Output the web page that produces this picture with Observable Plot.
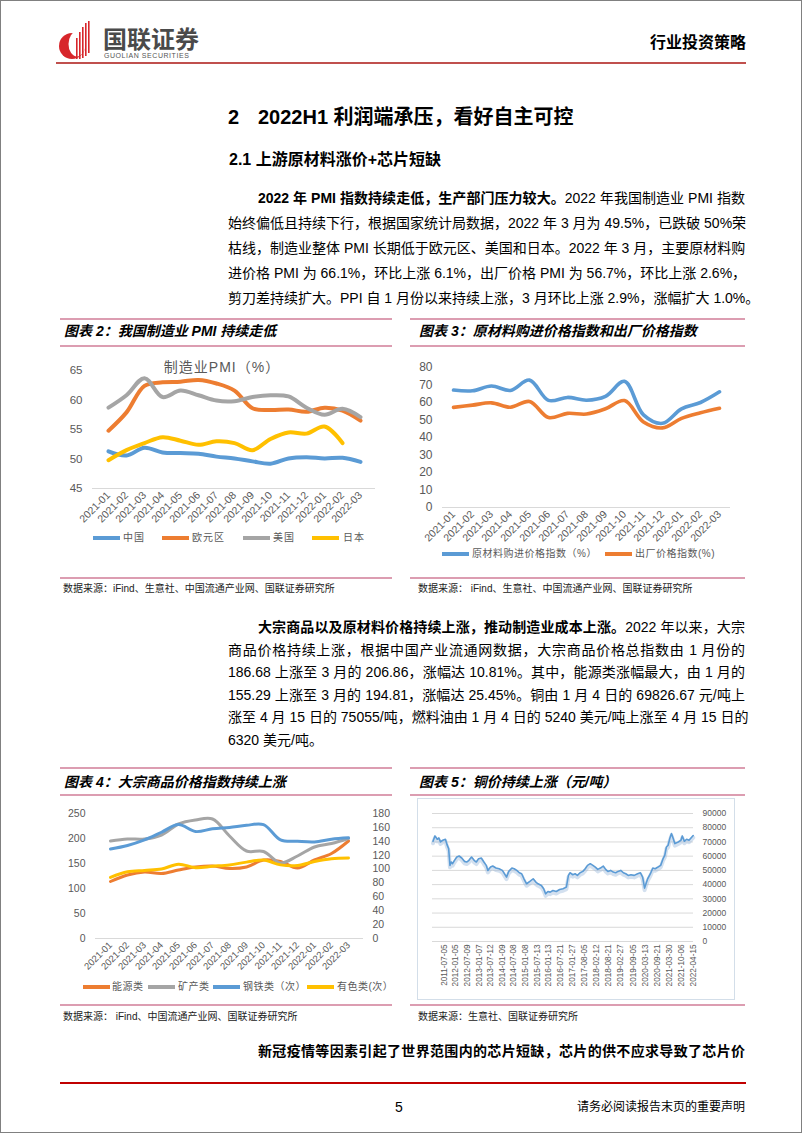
<!DOCTYPE html>
<html><head><meta charset="utf-8">
<script src="https://cdn.jsdelivr.net/npm/d3@7"></script>
<script src="https://cdn.jsdelivr.net/npm/@observablehq/plot@0.6"></script>
<style>
body{margin:0;background:#fff;}
#page{position:relative;width:802px;height:1133px;overflow:hidden;background:#fff;font-family:"Liberation Sans","Noto Sans CJK SC",sans-serif;color:#000;}
#frame{position:absolute;left:0;top:0;width:802px;height:1133px;box-sizing:border-box;border:1px solid #808080;pointer-events:none;}
.abs{position:absolute;white-space:nowrap;}
.pink{position:absolute;height:1.5px;background:#dc9db1;}
.ttl{position:absolute;font-size:14px;font-weight:bold;font-style:italic;white-space:nowrap;line-height:20px;}
.src{position:absolute;font-size:10px;white-space:nowrap;color:#222;line-height:14px;}
.ln{position:absolute;left:228px;width:517px;height:20px;line-height:20px;font-size:14px;text-align:justify;text-align-last:justify;white-space:nowrap;}
.ln.ind{left:258px;width:487px;}
.ln.last{text-align-last:left;}
.sw{position:absolute;width:27px;height:4px;}
.lt{position:absolute;font-size:10px;color:#595959;white-space:nowrap;line-height:14px;letter-spacing:1px;}
.chart{position:absolute;}
</style></head>
<body><div id="page">

<!-- header -->
<svg class="abs" style="left:0;top:0" width="120" height="70">
  <circle cx="72" cy="46" r="13" fill="#d7262b"/>
  <ellipse cx="77" cy="44" rx="8.5" ry="12.5" fill="#fff"/>
  <rect x="76" y="38" width="1.6" height="21" fill="#d7262b"/>
  <rect x="79" y="32" width="1.6" height="27" fill="#d7262b"/>
  <rect x="82" y="27" width="1.6" height="31" fill="#d7262b"/>
  <rect x="85" y="23" width="1.6" height="33" fill="#d7262b"/>
  <rect x="88" y="21" width="1.6" height="32" fill="#d7262b"/>
</svg>
<div class="abs" style="left:103px;top:26px;font-size:24px;line-height:28px;font-weight:bold;color:#4a4a4a;">国联证券</div>
<div class="abs" style="left:104px;top:51px;font-size:7px;line-height:9px;letter-spacing:0.55px;color:#555;">GUOLIAN SECURITIES</div>
<div class="abs" style="right:56px;top:33px;font-size:16px;line-height:20px;font-weight:bold;">行业投资策略</div>
<div class="abs" style="left:56px;top:62px;width:690px;height:1.6px;background:#c0504d;"></div>

<!-- headings -->
<div class="abs" style="left:228px;top:105px;font-size:20px;line-height:24px;font-weight:bold;">2</div>
<div class="abs" style="left:258px;top:105px;font-size:20px;line-height:24px;font-weight:bold;">2022H1 利润端承压，看好自主可控</div>
<div class="abs" style="left:229px;top:150px;font-size:16px;line-height:20px;font-weight:bold;">2.1 上游原材料涨价+芯片短缺</div>

<!-- paragraph 1 -->
<div class="ln ind" style="top:188px;"><b>2022 年 PMI 指数持续走低，生产部门压力较大。</b>2022 年我国制造业 PMI 指数</div>
<div class="ln" style="top:213px;">始终偏低且持续下行，根据国家统计局数据，2022 年 3 月为 49.5%，已跌破 50%荣</div>
<div class="ln" style="top:238px;">枯线，制造业整体 PMI 长期低于欧元区、美国和日本。2022 年 3 月，主要原材料购</div>
<div class="ln" style="top:263px;">进价格 PMI 为 66.1%，环比上涨 6.1%，出厂价格 PMI 为 56.7%，环比上涨 2.6%，</div>
<div class="ln" style="top:288px;">剪刀差持续扩大。PPI 自 1 月份以来持续上涨，3 月环比上涨 2.9%，涨幅扩大 1.0%。</div>

<!-- chart 2 / 3 frames -->
<div class="pink" style="left:60px;top:318px;width:332px;"></div>
<div class="pink" style="left:410px;top:318px;width:335px;"></div>
<div class="ttl" style="left:64px;top:321px;">图表 2：我国制造业 PMI 持续走低</div>
<div class="ttl" style="left:419px;top:321px;">图表 3：原材料购进价格指数和出厂价格指数</div>
<div class="pink" style="left:60px;top:345px;width:332px;"></div>
<div class="pink" style="left:410px;top:345px;width:335px;"></div>
<div class="abs" style="left:222px;top:358px;transform:translateX(-50%);font-size:14px;line-height:18px;color:#595959;letter-spacing:1px;">制造业PMI（%）</div>
<div id="c2" class="chart" style="left:60px;top:355px;"></div>
<div id="c3" class="chart" style="left:400px;top:355px;"></div>

<div class="sw" style="left:93px;top:536px;background:#5b9bd5;"></div><div class="lt" style="left:123px;top:531px;">中国</div>
<div class="sw" style="left:162px;top:536px;background:#ed7d31;"></div><div class="lt" style="left:192px;top:531px;">欧元区</div>
<div class="sw" style="left:243px;top:536px;background:#a5a5a5;"></div><div class="lt" style="left:273px;top:531px;">美国</div>
<div class="sw" style="left:312px;top:536px;background:#ffc000;"></div><div class="lt" style="left:343px;top:531px;">日本</div>

<div class="sw" style="left:442px;top:552px;background:#5b9bd5;"></div><div class="lt" style="left:472px;top:547px;letter-spacing:0.5px;">原材料购进价格指数（%）</div>
<div class="sw" style="left:605px;top:552px;background:#ed7d31;"></div><div class="lt" style="left:635px;top:547px;letter-spacing:0.5px;">出厂价格指数(%)</div>

<div class="pink" style="left:60px;top:577px;width:332px;"></div>
<div class="pink" style="left:410px;top:577px;width:335px;"></div>
<div class="src" style="left:63px;top:582px;">数据来源：iFind、生意社、中国流通产业网、国联证券研究所</div>
<div class="src" style="left:418px;top:582px;">数据来源：&nbsp;iFind、生意社、中国流通产业网、国联证券研究所</div>

<!-- paragraph 2 -->
<div class="ln ind" style="top:617px;"><b>大宗商品以及原材料价格持续上涨，推动制造业成本上涨。</b>2022 年以来，大宗</div>
<div class="ln" style="top:639.6px;">商品价格持续上涨，根据中国产业流通网数据，大宗商品价格总指数由 1 月份的</div>
<div class="ln" style="top:662.2px;">186.68 上涨至 3 月的 206.86，涨幅达 10.81%。其中，能源类涨幅最大，由 1 月的</div>
<div class="ln" style="top:684.8px;">155.29 上涨至 3 月的 194.81，涨幅达 25.45%。铜由 1 月 4 日的 69826.67 元/吨上</div>
<div class="ln" style="top:707.4px;">涨至 4 月 15 日的 75055/吨，燃料油由 1 月 4 日的 5240 美元/吨上涨至 4 月 15 日的</div>
<div class="ln last" style="top:730px;">6320 美元/吨。</div>

<!-- chart 4 / 5 frames -->
<div class="pink" style="left:60px;top:767px;width:332px;"></div>
<div class="pink" style="left:410px;top:767px;width:335px;"></div>
<div class="ttl" style="left:64px;top:772px;">图表 4：大宗商品价格指数持续上涨</div>
<div class="ttl" style="left:419px;top:772px;">图表 5：铜价持续上涨（元/吨）</div>
<div class="pink" style="left:60px;top:794px;width:332px;"></div>
<div class="pink" style="left:410px;top:794px;width:335px;"></div>
<div id="c4" class="chart" style="left:60px;top:800px;"></div>
<div class="abs" style="left:417px;top:798px;width:318px;height:202px;box-sizing:border-box;border:1px solid #d3dee9;"></div>
<div id="c5" class="chart" style="left:417px;top:798px;"></div>

<div class="sw" style="left:83px;top:985px;background:#ed7d31;"></div><div class="lt" style="left:112px;top:980px;letter-spacing:0.5px;">能源类</div>
<div class="sw" style="left:148px;top:985px;background:#a5a5a5;"></div><div class="lt" style="left:178px;top:980px;letter-spacing:0.5px;">矿产类</div>
<div class="sw" style="left:213px;top:985px;background:#5b9bd5;"></div><div class="lt" style="left:243px;top:980px;letter-spacing:0.5px;">钢铁类（次）</div>
<div class="sw" style="left:307px;top:985px;background:#ffc000;"></div><div class="lt" style="left:337px;top:980px;letter-spacing:0.5px;">有色类(次）</div>

<div class="pink" style="left:60px;top:1004px;width:332px;"></div>
<div class="pink" style="left:410px;top:1004px;width:335px;"></div>
<div class="src" style="left:63px;top:1010px;">数据来源：&nbsp;iFind、中国流通产业网、国联证券研究所</div>
<div class="src" style="left:418px;top:1010px;">数据来源：生意社、国联证券研究所</div>

<div class="ln ind" style="top:1041px;font-weight:bold;">新冠疫情等因素引起了世界范围内的芯片短缺，芯片的供不应求导致了芯片价</div>

<!-- footer -->
<div class="abs" style="left:60px;top:1082px;width:686px;height:2px;background:#c00000;"></div>
<div class="abs" style="left:395px;top:1098px;font-size:14px;line-height:18px;">5</div>
<div class="abs" style="right:57px;top:1099px;font-size:12px;line-height:16px;">请务必阅读报告末页的重要声明</div>

<div id="frame"></div>
</div>

<script>
// ---------- data ----------
const months = ["2021-01","2021-02","2021-03","2021-04","2021-05","2021-06","2021-07","2021-08","2021-09","2021-10","2021-11","2021-12","2022-01","2022-02","2022-03"];

// chart 2: manufacturing PMI
const pmiChina = [51.3,50.6,51.9,51.1,51.0,50.9,50.4,50.1,49.6,49.2,50.1,50.3,50.1,50.2,49.5];
const pmiEuro  = [54.8,57.9,62.4,63.0,63.1,63.4,62.8,61.6,58.6,58.3,58.4,58.0,58.7,58.2,56.5];
const pmiUS    = [58.7,60.8,63.7,60.5,61.6,60.8,59.9,59.8,60.5,60.8,60.6,58.7,57.5,58.5,57.1];
const pmiJapan = [49.8,51.5,52.7,53.7,53.1,52.4,53.0,52.7,51.5,53.4,54.5,54.3,55.5,52.7,null];
const pmiTicks = [45,50,55,60,65];

// chart 3: purchase price index and factory price index
const priceInput   = [67.1,66.7,69.4,66.9,72.8,61.2,62.9,61.3,63.5,72.1,52.9,48.1,56.4,60.0,66.1];
const priceFactory = [57.2,58.5,59.8,57.3,60.6,51.4,53.8,53.4,56.4,61.1,48.9,45.5,50.9,54.1,56.7];
const priceTicks = [0,10,20,30,40,50,60,70,80];

// chart 4: commodity indices (left axis: energy, mineral; right axis: steel, nonferrous)
const idxEnergy     = [114,127,133,130,137,143,145,140,143,157,154,141,157,170,195];
const idxMineral    = [195,199,199,207,229,237,239,205,175,174,151,165,183,190,200];
const idxSteel      = [129,134,142,153,164,154,158,160,163,164,142,140,139,143,145];
const idxNonferrous = [88,96,98,100,107,102,104,106,110,113,106,105,111,115,116];
const leftTicks  = [0,50,100,150,200,250];
const rightTicks = [0,20,40,60,80,100,120,140,160,180];

// chart 5: copper price (yuan/ton)
const cuDates = [
 "2011-01-11","2011-02-11","2011-03-19","2011-04-14","2011-05-09","2011-06-14","2011-07-26","2011-08-20","2011-09-15","2011-10-06","2011-10-26","2011-11-16","2011-12-17",
 "2012-01-22","2012-02-28","2012-04-09","2012-05-21","2012-06-26","2012-08-01","2012-09-11","2012-10-22","2012-11-26",
 "2013-01-01","2013-02-12","2013-03-25","2013-05-01","2013-05-27","2013-07-08","2013-08-12","2013-10-02","2013-11-21",
 "2014-01-11","2014-03-18","2014-04-22","2014-06-11","2014-07-17","2014-08-27","2014-10-07","2014-11-12","2014-12-18",
 "2015-01-29","2015-03-22","2015-05-13","2015-06-24","2015-07-30","2015-09-20","2015-10-26","2015-11-25",
 "2016-01-01","2016-02-06","2016-03-20","2016-05-12","2016-07-04","2016-08-26","2016-10-19","2016-11-20","2016-12-16",
 "2017-01-27","2017-03-06","2017-04-11","2017-05-23","2017-07-06","2017-08-13","2017-09-18","2017-10-31","2017-12-12",
 "2018-01-19","2018-02-27","2018-04-10","2018-05-24","2018-07-01","2018-08-06","2018-09-18","2018-10-30","2018-12-07",
 "2019-01-12","2019-02-25","2019-04-08","2019-05-16","2019-06-23","2019-08-04","2019-09-26","2019-11-18",
 "2020-01-01","2020-02-06","2020-03-08","2020-03-30","2020-04-26","2020-06-08","2020-07-16","2020-08-22","2020-10-06","2020-11-17","2020-12-25",
 "2021-01-21","2021-02-16","2021-03-15","2021-04-10","2021-05-07","2021-06-03","2021-06-29","2021-08-21","2021-10-04","2021-10-25","2021-11-26",
 "2022-01-01","2022-02-08","2022-03-12","2022-04-15"];
const cuPrice = [
 70470,74240,71880,72820,70000,71180,71880,68120,65290,53530,55880,54710,57060,
 59410,60120,58710,56350,55880,57060,59410,57060,55880,
 58240,58710,55880,53530,50000,52350,53060,51650,51180,
 50000,45290,49290,51650,51180,50000,48350,47650,44120,
 40590,42240,44120,41760,40590,39410,37060,33530,
 35180,34710,35880,35180,36590,37060,38240,46470,48350,
 46940,47650,46470,48350,49290,51180,53530,54710,53530,
 52350,50710,51650,53060,50710,49290,50000,48820,48350,
 49290,50000,48350,47650,46470,46940,46470,47650,
 48350,45290,37530,40590,44120,47650,51650,51180,52350,53530,58240,
 60590,66470,67650,72350,75880,72350,68820,70000,71180,74240,70470,
 71880,71180,72820,74500];
const cuLabels = ["2011-07-05","2012-01-05","2012-07-09","2013-01-07","2013-07-12","2014-01-09","2014-07-08","2015-01-08","2015-07-13","2016-01-13","2016-07-21","2017-01-27","2017-08-05","2018-02-12","2018-08-21","2019-02-27","2019-09-05","2020-03-13","2020-09-21","2021-03-30","2021-10-06","2022-04-15"];
const cuTicks = [0,10000,20000,30000,40000,50000,60000,70000,80000,90000];
const cuDomain = ["2011-01-03","2022-04-20"];

// ---------- helpers ----------
const FONT = "Liberation Sans, Noto Sans CJK SC, sans-serif";
const GRAY = "#595959";
const rows = (arr) => months.map((m, i) => ({m, v: arr[i]})).filter(d => d.v != null);
const baseStyle = {fontFamily: FONT, color: GRAY, background: "transparent", overflow: "visible"};

// ---------- chart 2 ----------
{
  const series = [[pmiChina,"#5b9bd5"],[pmiEuro,"#ed7d31"],[pmiUS,"#a5a5a5"],[pmiJapan,"#ffc000"]];
  const p = Plot.plot({
    width: 340, height: 175, marginTop: 15, marginBottom: 42, marginLeft: 32, marginRight: 25,
    style: baseStyle,
    x: {type: "point", domain: months, padding: 0.5},
    y: {domain: [45, 65]},
    marks: [
      Plot.ruleY([45], {stroke: "#d9d9d9"}),
      Plot.axisY({ticks: pmiTicks, tickSize: 0, tickPadding: 10, fontSize: 11.5, label: null}),
      Plot.axisX({tickSize: 0, tickPadding: 5, tickRotate: -45, fontSize: 10.5, label: null}),
      ...series.map(([a, c]) => Plot.line(rows(a), {x: "m", y: "v", stroke: c, strokeWidth: 4, curve: "catmull-rom"}))
    ]
  });
  document.getElementById("c2").append(p);
}

// ---------- chart 3 ----------
{
  const p = Plot.plot({
    width: 402, height: 200, marginTop: 12, marginBottom: 48, marginLeft: 42, marginRight: 72,
    style: baseStyle,
    x: {type: "point", domain: months, padding: 0.5},
    y: {domain: [0, 80]},
    marks: [
      Plot.ruleY([0], {stroke: "#d9d9d9"}),
      Plot.axisY({ticks: priceTicks, tickSize: 0, tickPadding: 10, fontSize: 12, label: null}),
      Plot.axisX({tickSize: 0, tickPadding: 5, tickRotate: -45, fontSize: 10.5, label: null}),
      Plot.line(rows(priceInput), {x: "m", y: "v", stroke: "#5b9bd5", strokeWidth: 3.6, curve: "catmull-rom"}),
      Plot.line(rows(priceFactory), {x: "m", y: "v", stroke: "#ed7d31", strokeWidth: 3.6, curve: "catmull-rom"})
    ]
  });
  document.getElementById("c3").append(p);
}

// ---------- chart 4 ----------
{
  const k = 250 / 180; // right-axis units mapped onto the left scale
  const right = (arr) => arr.map(v => v * k);
  const p = Plot.plot({
    width: 340, height: 180, marginTop: 13, marginBottom: 42, marginLeft: 35, marginRight: 37,
    style: baseStyle,
    x: {type: "point", domain: months, padding: 0.5},
    y: {domain: [0, 250]},
    marks: [
      Plot.ruleY([0], {stroke: "#d9d9d9"}),
      Plot.axisY({ticks: leftTicks, tickSize: 0, tickPadding: 10, fontSize: 10.5, label: null}),
      Plot.axisY({anchor: "right", ticks: rightTicks.map(t => t * k), tickFormat: d => String(Math.round(d / k)), tickSize: 0, tickPadding: 9, fontSize: 10.5, label: null}),
      Plot.axisX({tickSize: 0, tickPadding: 5, tickRotate: -45, fontSize: 9.5, label: null}),
      Plot.line(rows(idxEnergy), {x: "m", y: "v", stroke: "#ed7d31", strokeWidth: 3, curve: "catmull-rom"}),
      Plot.line(rows(idxMineral), {x: "m", y: "v", stroke: "#a5a5a5", strokeWidth: 3, curve: "catmull-rom"}),
      Plot.line(rows(right(idxSteel)), {x: "m", y: "v", stroke: "#5b9bd5", strokeWidth: 3, curve: "catmull-rom"}),
      Plot.line(rows(right(idxNonferrous)), {x: "m", y: "v", stroke: "#ffc000", strokeWidth: 3, curve: "catmull-rom"})
    ]
  });
  document.getElementById("c4").append(p);
}

// ---------- chart 5 ----------
{
  const cu = cuDates.map((d, i) => ({d: new Date(d), v: cuPrice[i]}));
  const p = Plot.plot({
    width: 318, height: 202, marginTop: 15, marginBottom: 59, marginLeft: 15, marginRight: 42,
    style: baseStyle,
    x: {type: "utc", domain: cuDomain.map(d => new Date(d))},
    y: {domain: [0, 90000]},
    marks: [
      Plot.gridY(cuTicks, {stroke: "#d9d9d9", strokeOpacity: 1}),
      Plot.axisY({anchor: "right", ticks: cuTicks, tickFormat: d => String(d), tickSize: 0, tickPadding: 9, fontSize: 8.5, label: null}),
      Plot.axisX({ticks: cuLabels.map(d => new Date(d)), tickFormat: d3.utcFormat("%Y-%m-%d"), tickRotate: -90, tickSize: 0, tickPadding: 3, fontSize: 8.2, label: null}),
      Plot.line(cu, {x: "d", y: "v", stroke: "#9dbbdc", strokeOpacity: 0.45, strokeWidth: 4, dy: 2}),
      Plot.line(cu, {x: "d", y: "v", stroke: "#5b9bd5", strokeWidth: 1.6})
    ]
  });
  document.getElementById("c5").append(p);
}
</script>
</body></html>
